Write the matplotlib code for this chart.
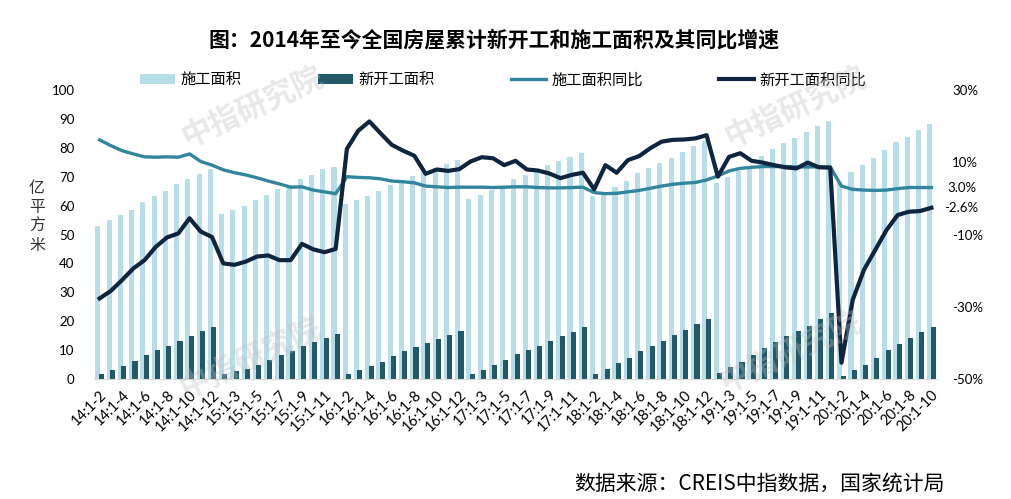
import matplotlib.pyplot as plt
import matplotlib.transforms as mtransforms
import numpy as np

plt.rcParams['font.family'] = ['Lato', 'Noto Sans CJK SC', 'DejaVu Sans']

# 年份和月份（1-2月累计 ~ 1-12月累计）
years = [14, 15, 16, 17, 18, 19, 20]
last_month = [12, 12, 12, 12, 12, 12, 10]
labels = [f"{y}:1-{m}" for y, lm in zip(years, last_month) for m in range(2, lm + 1)]

# 施工面积（亿平方米）
shigong = [53.0, 54.9, 56.7, 58.6, 61.3, 63.2, 65.0, 67.5, 69.3, 71.0, 72.5,
           57.2, 58.6, 60.0, 61.9, 63.7, 65.6, 67.0, 69.3, 70.7, 72.5, 73.5,
           60.6, 61.9, 63.3, 65.2, 67.0, 68.3, 70.2, 71.5, 72.9, 74.4, 75.8,
           62.3, 63.7, 65.4, 66.8, 69.3, 70.7, 72.5, 74.0, 75.4, 76.8, 78.2,
           63.3, 64.2, 66.5, 68.5, 71.2, 73.0, 74.9, 76.5, 78.7, 80.7, 82.4,
           67.7, 70.0, 71.8, 73.2, 77.3, 79.6, 81.5, 83.3, 85.6, 87.5, 89.3,
           68.0, 71.7, 74.0, 76.3, 79.1, 82.0, 83.9, 86.2, 88.1]

# 新开工面积（亿平方米）
xinkai = [1.6, 3.1, 4.5, 6.3, 8.2, 10.0, 11.5, 13.3, 14.8, 16.6, 18.0,
          1.7, 2.6, 3.5, 5.0, 6.7, 8.2, 9.6, 11.5, 12.9, 14.2, 15.5,
          1.7, 3.1, 4.5, 5.9, 7.8, 9.7, 11.1, 12.5, 13.8, 15.2, 16.7,
          1.6, 3.1, 4.9, 6.7, 8.6, 10.1, 11.5, 13.3, 14.8, 16.1, 17.9,
          1.6, 3.6, 5.4, 7.3, 9.6, 11.5, 13.3, 15.2, 17.1, 18.9, 20.9,
          2.1, 4.0, 5.9, 8.2, 10.6, 12.9, 14.8, 16.6, 18.5, 20.8, 22.7,
          1.1, 3.1, 5.0, 7.3, 10.0, 12.0, 14.3, 16.2, 18.0]

# 施工面积同比（%）
shigong_yoy = [16.2, 14.6, 13.2, 12.3, 11.5, 11.4, 11.5, 11.4, 12.3, 10.2, 9.2,
               7.9, 7.1, 6.5, 5.7, 4.8, 4.0, 3.1, 3.2, 2.3, 1.8, 1.3,
               6.0, 5.8, 5.7, 5.4, 4.8, 4.6, 4.3, 3.4, 3.2, 3.0, 3.1,
               3.1, 3.1, 3.0, 3.1, 3.2, 3.2, 3.0, 2.9, 2.9, 3.0, 3.1,
               1.6, 1.3, 1.4, 1.8, 2.2, 2.8, 3.4, 3.9, 4.2, 4.4, 5.1,
               6.2, 7.6, 8.3, 8.6, 8.8, 8.8, 8.8, 8.7, 8.7, 8.7, 8.7,
               3.4, 2.5, 2.3, 2.2, 2.3, 2.7, 3.0, 3.0, 3.0]

# 新开工面积同比（%）
xinkai_yoy = [-27.7, -25.6, -22.6, -19.4, -17.1, -13.4, -10.8, -9.7, -5.5, -9.2, -10.7,
              -18.0, -18.4, -17.5, -16.1, -15.8, -17.1, -17.1, -12.6, -14.1, -14.9, -14.0,
              13.7, 18.7, 21.3, 18.0, 14.8, 13.2, 11.8, 6.8, 8.0, 7.6, 8.1,
              10.2, 11.4, 11.1, 9.2, 10.4, 8.0, 7.7, 6.9, 5.6, 6.5, 7.1,
              2.5, 9.2, 7.1, 10.6, 11.7, 13.9, 15.7, 16.2, 16.3, 16.6, 17.5,
              6.0, 11.5, 12.5, 10.4, 9.9, 9.2, 8.6, 8.3, 9.9, 8.6, 8.5,
              -45.5, -28.1, -19.8, -14.3, -8.8, -4.6, -3.7, -3.5, -2.6]

c_light = '#b7dee8'
c_dark = '#215968'
c_teal = '#31859c'
c_navy = '#0f243e'

fig = plt.figure(figsize=(10.12, 4.99), dpi=100)
ax = fig.add_axes([94 / 1012, 1 - 379 / 499, 843 / 1012, 289 / 499])
x = np.arange(len(labels))

b1 = ax.bar(x - 0.15, shigong, width=0.45, color=c_light, zorder=1, label='施工面积')
b2 = ax.bar(x + 0.15, xinkai, width=0.45, color=c_dark, zorder=2, label='新开工面积')
ax.set_ylim(0, 100)
ax.set_xlim(-0.5, len(labels) - 0.5)
ax.set_yticks(range(0, 101, 10))
ax.set_xticks(x[::2])
ax.set_xticklabels(labels[::2], rotation=45, ha='right', va='top',
                   rotation_mode='anchor', fontsize=10.5)
ax.tick_params(axis='both', length=0)
ax.tick_params(axis='y', pad=14, labelsize=9.5)
ax.tick_params(axis='x', pad=6)
for s in ['left', 'right', 'top']:
    ax.spines[s].set_visible(False)
ax.spines['bottom'].set_color('#d9d9d9')

ax2 = ax.twinx()
l1, = ax2.plot(x, shigong_yoy, color=c_teal, lw=2.4, solid_joinstyle='round', label='施工面积同比')
l2, = ax2.plot(x, xinkai_yoy, color=c_navy, lw=3.0, solid_joinstyle='round', label='新开工面积同比')
ax2.set_ylim(-50, 30)
ax2.set_yticks([-50, -30, -10, 10, 30])
ax2.set_yticklabels([f"{v}%" for v in [-50, -30, -10, 10, 30]])
ax2.tick_params(axis='y', length=0, labelsize=9.5, pad=11)
for s in ax2.spines.values():
    s.set_visible(False)

# 末期同比标注
trans = mtransforms.blended_transform_factory(ax2.transAxes, ax2.transData)
ax2.text(1.012, shigong_yoy[-1], f"{shigong_yoy[-1]:.1f}%", transform=trans,
         ha='left', va='center', fontsize=9.5)
ax2.text(1.009, xinkai_yoy[-1], f"{xinkai_yoy[-1]:.1f}%", transform=trans,
         ha='left', va='center', fontsize=9.5)

fig.legend([b1, b2, l1, l2], ['施工面积', '新开工面积', '施工面积同比', '新开工面积同比'],
           ncol=4, loc='center', bbox_to_anchor=(0.497, 1 - 80 / 499), frameon=False,
           columnspacing=5.0, handlelength=2.3, handletextpad=0.35,
           prop={'family': ['Noto Sans CJK SC'], 'size': 11})

fig.text(0.488, 1 - 40 / 499, '图：2014年至今全国房屋累计新开工和施工面积及其同比增速',
         ha='center', va='center', fontsize=15, fontweight='bold',
         family=['Noto Sans CJK SC'])
fig.text(37 / 1012, 1 - 217 / 499, '亿\n平\n方\n米', ha='center', va='center',
         fontsize=11.5, linespacing=1.15, color='#333333', family=['Noto Sans CJK SC'])
fig.text(945 / 1012, 1 - 484 / 499, '数据来源：CREIS中指数据，国家统计局',
         ha='right', va='center', fontsize=15, family=['Noto Sans CJK SC'])

# 水印
for wx, wy in [(252, 107), (795, 107), (250, 358), (790, 352)]:
    fig.text(wx / 1012, 1 - wy / 499, '中指研究院', ha='center', va='center',
             rotation=25, fontsize=22, fontweight='bold', color='#bfbfbf', alpha=0.35,
             family=['Noto Sans CJK SC'], zorder=10)

fig.savefig('out.png', dpi=100)
